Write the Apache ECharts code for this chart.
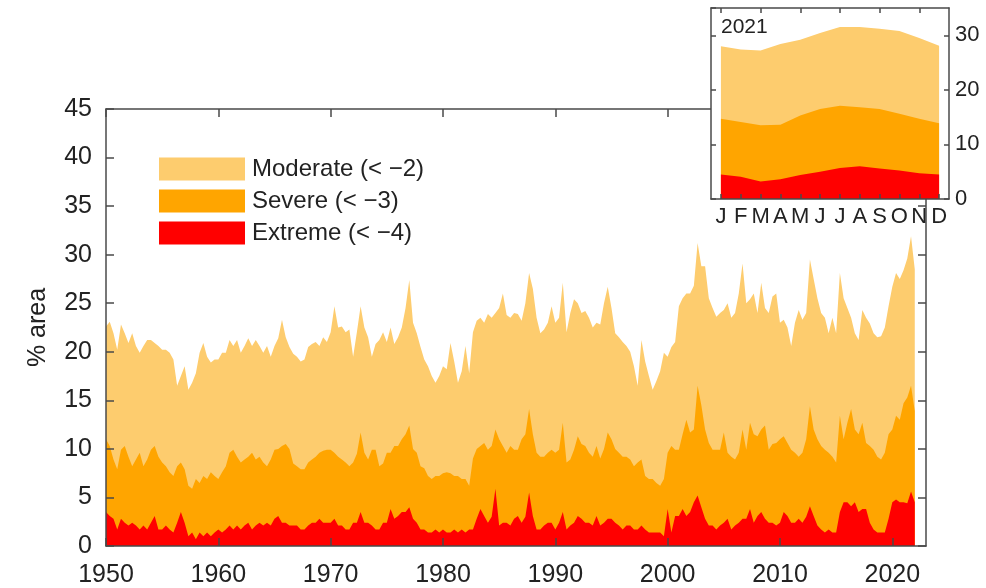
<!DOCTYPE html>
<html><head><meta charset="utf-8">
<script src="https://cdn.jsdelivr.net/npm/echarts@6/dist/echarts.min.js"></script>
<style>html,body{margin:0;padding:0;background:#fff}#c{width:986px;height:588px}</style>
</head><body><div id="c"></div>
<script>
// Time sampling of the main series (every 4 months from Jan 1950)
const startYear = 1950;
const stepYears = 1 / 3;

// % area in moderate drought (< -2), read per year: Jan, May, Sep
const moderate = [
22.6,23.1,21.9, 20.2,22.8,21.9, 20.9,21.9,20.6, 19.9,20.6,21.2, 21.2,20.9,20.6,
20.2,20.2,19.9, 19.2,16.5,17.5, 18.5,16.1,16.8, 17.8,19.9,20.9, 19.5,18.9,19.2,
19.2,19.9,19.9, 21.2,20.6,21.2, 19.9,20.6,21.4, 20.6,21.2,20.6, 19.9,20.6,19.5,
20.6,21.4,23.3, 21.5,20.5,19.8, 19.5,19.0,19.2, 20.5,20.8,21.0, 20.6,21.5,21.0,
22.0,24.7,22.5, 22.6,22.0,22.3, 19.5,22.0,24.7, 22.5,21.5,19.5, 20.8,21.2,22.0,
21.0,22.5,20.8, 21.5,22.5,24.5, 27.4,23.0,21.9, 20.5,19.2,18.5, 17.5,16.8,17.5,
18.5,18.2,20.9, 19.0,16.8,18.0, 20.6,17.8,22.0, 23.2,23.5,23.0, 23.9,23.5,24.0,
24.5,26.0,23.8, 23.5,24.0,23.9, 23.2,25.0,28.1, 26.5,23.5,21.9, 22.3,23.0,24.7,
23.0,23.5,27.1, 22.0,24.0,25.4, 25.0,24.0,24.2, 23.5,22.5,23.0, 22.8,25.0,26.7,
24.5,21.9,21.5, 21.0,20.6,20.0, 18.5,16.5,21.2, 19.0,17.5,16.1, 17.0,18.0,19.9,
19.5,20.5,21.0, 24.7,25.5,26.0, 26.0,26.8,31.2, 28.8,28.8,25.5, 24.5,23.6,24.0,
24.3,25.0,23.5, 24.0,26.0,29.1, 25.0,25.4,26.0, 24.0,27.1,24.5, 24.0,25.7,26.0,
23.0,23.3,22.5, 20.6,23.0,24.3, 23.3,24.0,29.5, 27.5,25.5,24.0, 23.5,21.9,23.5,
21.9,28.1,25.5, 24.5,23.5,21.9, 21.2,24.3,23.5, 22.9,21.9,21.5, 21.6,22.5,24.7,
26.7,28.1,27.5, 28.4,29.6,31.9, 28.5
];
// % area in severe drought (< -3)
const severe = [
11.0,10.3,8.9, 7.9,9.9,10.3, 9.2,8.2,8.9, 9.6,8.2,8.9, 9.9,10.3,9.2,
8.6,8.2,7.6, 7.2,8.2,8.6, 7.9,6.2,5.9, 6.9,6.5,7.2, 6.9,7.6,7.2,
6.9,7.6,8.2, 9.6,9.9,9.2, 8.6,8.9,9.2, 9.6,8.9,9.2, 8.6,8.2,8.9,
9.9,10.0,10.3, 10.5,10.0,8.5, 8.2,7.9,7.9, 8.6,8.9,9.2, 9.6,9.8,9.9,
9.9,9.6,9.2, 8.9,8.6,8.2, 8.6,9.5,11.7, 9.6,8.9,9.9, 9.9,8.2,8.5,
9.6,9.6,10.3, 10.3,11.0,11.5, 12.4,10.0,9.6, 8.2,8.0,7.2, 6.9,7.2,7.2,
7.5,7.6,7.5, 7.2,7.2,6.9, 6.9,6.2,9.0, 10.0,10.3,10.6, 9.9,10.3,12.0,
11.0,10.3,9.6, 10.3,9.9,9.9, 11.0,11.5,14.1, 11.5,9.6,9.2, 9.2,9.6,9.9,
9.6,9.9,12.7, 8.6,8.9,9.9, 11.3,10.5,10.3, 9.6,9.2,10.3, 9.0,10.0,11.7,
11.0,10.0,9.6, 9.2,9.2,8.9, 8.2,8.6,8.9, 7.2,6.9,6.9, 6.5,6.2,6.9,
9.6,10.3,9.9, 9.9,11.5,13.0, 11.7,12.0,16.5, 14.5,12.0,10.6, 9.9,9.9,9.9,
11.7,9.6,9.2, 8.9,9.6,12.0, 9.9,12.7,11.5, 11.3,12.0,12.4, 9.9,10.5,10.6,
11.0,11.3,10.6, 9.9,9.6,9.2, 9.6,11.0,14.4, 12.0,11.0,10.3, 9.9,9.6,9.2,
8.6,13.4,11.0, 12.7,14.1,12.0, 11.5,12.7,10.6, 10.3,9.9,9.2, 8.9,9.6,11.5,
12.0,13.4,13.0, 14.7,15.3,16.5, 13.9
];
// % area in extreme drought (< -4)
const extreme = [
3.5,3.1,2.8, 1.7,2.8,2.4, 2.1,2.4,2.1, 1.7,2.1,1.7, 2.4,3.1,1.7,
1.7,2.1,1.7, 1.4,2.4,3.5, 2.4,1.0,1.4, 0.7,1.4,1.0, 1.4,1.0,1.4,
1.7,1.4,1.7, 2.1,1.7,2.1, 1.7,2.1,2.4, 1.7,2.1,2.4, 2.1,2.4,2.1,
2.8,3.1,2.4, 2.4,2.1,2.1, 2.1,1.7,1.7, 2.1,2.4,2.4, 2.8,2.4,2.4,
2.4,2.8,2.1, 2.1,1.7,1.7, 2.4,2.4,3.5, 2.4,2.4,2.1, 1.7,1.7,2.4,
2.4,3.8,2.8, 3.1,3.5,3.5, 4.0,2.8,2.4, 1.7,1.7,1.4, 1.4,1.7,1.4,
1.7,1.4,1.4, 1.7,1.4,1.7, 1.4,1.7,1.7, 2.8,3.8,3.1, 2.4,3.0,5.9,
2.1,2.4,2.4, 2.1,2.8,3.1, 2.4,3.0,5.5, 3.1,1.7,1.7, 2.1,2.4,2.4,
1.7,2.4,3.5, 1.7,2.1,2.4, 3.1,2.8,2.4, 2.4,2.1,3.1, 2.1,2.4,2.8,
2.8,2.4,2.1, 1.7,2.1,2.1, 1.7,1.7,2.1, 1.7,1.4,1.4, 1.4,1.4,1.0,
3.8,1.4,3.1, 3.1,3.8,3.1, 3.5,4.5,5.2, 4.0,2.8,2.1, 2.1,1.7,2.1,
2.4,2.8,1.7, 2.1,2.4,2.8, 2.8,3.8,2.4, 3.1,3.5,2.8, 2.4,2.4,2.1,
2.4,3.5,3.1, 2.4,2.4,2.8, 2.4,3.0,4.1, 3.1,2.1,1.7, 1.4,1.7,1.4,
1.4,3.5,4.5, 4.5,4.1,4.5, 3.5,3.8,3.8, 2.4,1.7,1.4, 1.4,1.4,2.8,
4.5,4.8,4.5, 4.5,4.4,5.6, 4.5
];

// Inset: 2021 monthly values
const insetMonths = ['Jan','Feb','Mar','Apr','May','Jun','Jul','Aug','Sep','Oct','Nov','Dec'];
const insetModerate = [28.0,27.4,27.2,28.4,29.2,30.4,31.5,31.5,31.2,30.8,29.5,28.1];
const insetSevere   = [14.7,14.1,13.5,13.6,15.3,16.5,17.1,16.8,16.5,15.6,14.7,13.9];
const insetExtreme  = [4.5,4.1,3.2,3.6,4.4,5.0,5.7,6.0,5.6,5.2,4.7,4.5];

const names = ['Moderate (< \u22122)', 'Severe (< \u22123)', 'Extreme (< \u22124)'];
const colors = ['#FDCC6E', '#FFA500', '#FF0000'];

function pairs(vals) {
  return vals.map((v, i) => [startYear + i * stepYears, v]);
}

const FONT = '"Liberation Sans", Arial, Helvetica, sans-serif';
const AX = '#4a4a4a';
const TXT = '#222';
const axLine = { show: true, onZero: false, lineStyle: { color: AX, width: 1.5 } };
const tick = (len) => ({ show: true, inside: true, length: len, lineStyle: { color: AX, width: 1.5 } });

const chart = echarts.init(document.getElementById('c'), null, { renderer: 'canvas' });

const mainSeries = [moderate, severe, extreme].map((vals, k) => ({
  name: names[k], type: 'line', xAxisIndex: 0, yAxisIndex: 0,
  data: pairs(vals), showSymbol: false, symbol: 'none',
  lineStyle: { width: 0 }, itemStyle: { color: colors[k] },
  areaStyle: { color: colors[k], opacity: 1, origin: 'start' },
  z: 2 + k * 0.1, silent: true
}));
const insetSeries = [insetModerate, insetSevere, insetExtreme].map((vals, k) => ({
  name: 'inset' + k, type: 'line', xAxisIndex: 2, yAxisIndex: 2,
  data: vals, showSymbol: false, symbol: 'none',
  lineStyle: { width: 0 }, itemStyle: { color: colors[k] },
  areaStyle: { color: colors[k], opacity: 1, origin: 'start' },
  z: 12 + k * 0.1, silent: true
}));

chart.setOption({
  animation: false,
  textStyle: { fontFamily: FONT },
  grid: [
    { left: 106, right: 60, top: 109, bottom: 41, show: false },
    { left: 711, right: 37, top: 8, bottom: 389, show: true, backgroundColor: '#fff', borderWidth: 0, z: 10 }
  ],
  legend: {
    data: names, orient: 'vertical', left: 159, top: 157, padding: 0,
    icon: 'rect', itemWidth: 86, itemHeight: 23, itemGap: 8,
    selectedMode: false,
    textStyle: { fontSize: 24, color: TXT, fontFamily: FONT, lineHeight: 23, padding: [0, 0, 0, 2] }
  },
  xAxis: [
    { type: 'value', gridIndex: 0, position: 'bottom', min: 1950, max: 2023, interval: 10,
      axisLine: axLine, axisTick: tick(8), splitLine: { show: false },
      axisLabel: { fontSize: 25, color: TXT, margin: 17, fontFamily: FONT, showMaxLabel: false,
        formatter: v => (v % 10 === 0 ? String(v) : '') }, z: 3 },
    { type: 'value', gridIndex: 0, position: 'top', min: 1950, max: 2023, interval: 10,
      axisLine: axLine, axisTick: tick(8), splitLine: { show: false }, axisLabel: { show: false }, z: 3 },
    { type: 'category', gridIndex: 1, position: 'bottom', data: insetMonths, boundaryGap: true,
      axisLine: axLine, axisTick: Object.assign(tick(5), { alignWithLabel: true }), splitLine: { show: false },
      axisLabel: { fontSize: 22, color: TXT, margin: 7, interval: 0, fontFamily: FONT, formatter: v => v.charAt(0) }, z: 13 },
    { type: 'category', gridIndex: 1, position: 'top', data: insetMonths, boundaryGap: true,
      axisLine: axLine, axisTick: Object.assign(tick(5), { alignWithLabel: true }), splitLine: { show: false },
      axisLabel: { show: false }, z: 13 }
  ],
  yAxis: [
    { type: 'value', gridIndex: 0, position: 'left', min: 0, max: 45, interval: 5,
      axisLine: axLine, axisTick: tick(8), splitLine: { show: false },
      axisLabel: { fontSize: 25, color: TXT, margin: 14, fontFamily: FONT },
      name: '% area', nameLocation: 'middle', nameGap: 55,
      nameTextStyle: { fontSize: 25, color: TXT, fontFamily: FONT }, z: 3 },
    { type: 'value', gridIndex: 0, position: 'right', min: 0, max: 45, interval: 5,
      axisLine: axLine, axisTick: tick(8), splitLine: { show: false }, axisLabel: { show: false }, z: 3 },
    { type: 'value', gridIndex: 1, position: 'right', min: 0, max: 35, interval: 10,
      axisLine: axLine, axisTick: tick(5), splitLine: { show: false },
      axisLabel: { fontSize: 22, color: TXT, margin: 6, fontFamily: FONT, showMaxLabel: false,
        formatter: v => (v % 10 === 0 ? String(v) : '') }, z: 13 },
    { type: 'value', gridIndex: 1, position: 'left', min: 0, max: 35, interval: 10,
      axisLine: axLine, axisTick: tick(5), splitLine: { show: false }, axisLabel: { show: false }, z: 13 }
  ],
  graphic: [
    { type: 'text', left: 721, top: 17, z: 20,
      style: { text: '2021', fontSize: 21, fill: TXT, fontFamily: FONT } }
  ],
  series: mainSeries.concat(insetSeries)
});
</script>
</body></html>
